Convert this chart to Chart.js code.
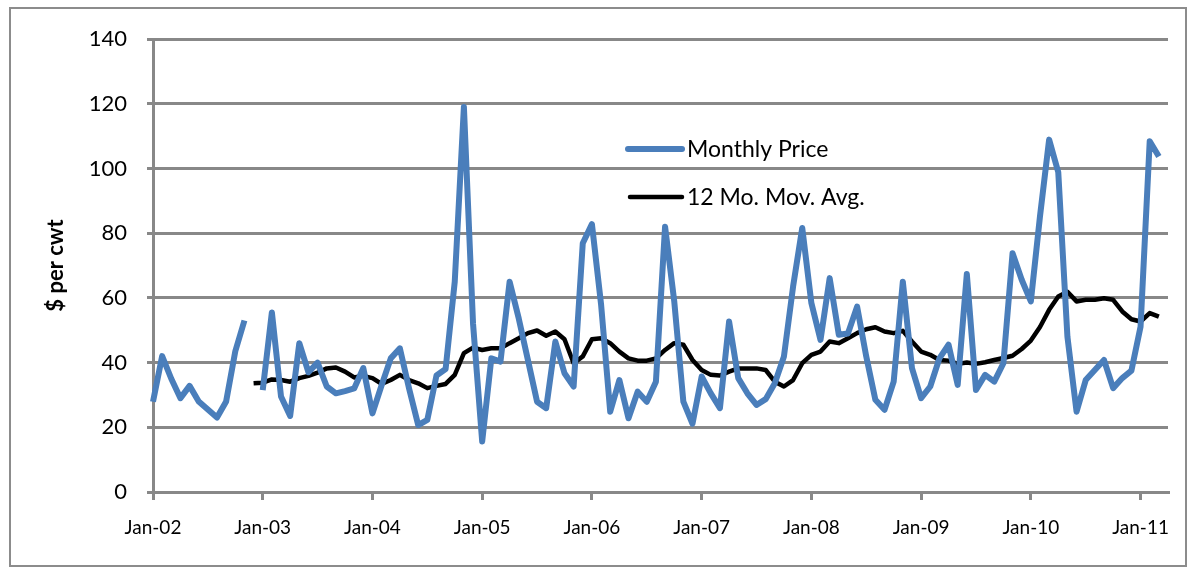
<!DOCTYPE html>
<html>
<head>
<meta charset="utf-8">
<script src="https://cdn.jsdelivr.net/npm/chart.js@4.4.0/dist/chart.umd.min.js"></script>
<style>
  body { margin: 0; background: #fff; }
  #wrap { width: 1193px; height: 571px; }
</style>
</head>
<body>
<div id="wrap"><canvas id="priceChart"></canvas></div>
<script>
const monthNames = ['Jan', 'Feb', 'Mar', 'Apr', 'May', 'Jun', 'Jul', 'Aug', 'Sep', 'Oct', 'Nov', 'Dec'];
const yearCodes = ['02', '03', '04', '05', '06', '07', '08', '09', '10', '11'];

// Jan-02 .. Apr-11 (axis runs one month past the last value)
const months = [];
yearCodes.forEach(y => monthNames.forEach(m => months.push(m + '-' + y)));
months.length = 112;

// $ per cwt, Jan-02 .. Mar-11 (Dec-02 missing)
const monthlyPrice = [
  27.9, 42, 35, 29, 32.8, 28, 25.5, 23, 28, 43.5, 53, null,
  31.5, 55.5, 29.5, 23.5, 46, 37, 40, 32.6, 30.5, 31.2, 32, 38.3,
  24.3, 33, 41.3, 44.4, 32, 20.7, 22.3, 36, 38, 65, 119, 52,
  15.6, 41.3, 40.3, 65, 53.6, 40.8, 27.9, 25.9, 46.5, 36.7, 32.6, 76.9,
  82.8, 58, 24.8, 34.6, 22.8, 31, 27.9, 34.1, 82, 59, 27.9, 21.1,
  35.7, 30.5, 25.9, 52.7, 35.2, 30.5, 26.9, 28.7, 33.6, 41.9, 63.5, 81.6,
  58.4, 47, 66.1, 48.6, 49, 57.3, 41.9, 28.5, 25.4, 34.1, 65, 38.3,
  29, 32.6, 41.3, 45.5, 33.1, 67.4, 31.5, 36.2, 34.1, 39.8, 73.8, 65.6,
  58.9, 85.2, 108.9, 98.8, 48, 24.8, 34.6, 37.7, 40.8, 32.1, 35.2, 37.5,
  51.1, 108.4, 103.7
];

const movingAvg = [
  null, null, null, null, null, null, null, null, null, null, null, 33.6,
  33.8, 34.8, 34.6, 34.1, 35.2, 35.9, 36.9, 38.2, 38.5, 37.2, 35.4, 35.9,
  35.2, 33.4, 34.6, 36.2, 34.6, 33.6, 32.1, 32.8, 33.4, 36.2, 42.9, 44.6,
  43.9, 44.4, 44.4, 46, 47.5, 49.1, 49.9, 48.3, 49.6, 47.2, 39.8, 41.9,
  47.2, 47.5, 46, 43.4, 41.3, 40.6, 40.6, 41.3, 43.9, 46, 45.5, 40.8,
  37.7, 36.2, 36, 37.2, 38.2, 38.2, 38.2, 37.7, 34.1, 32.6, 34.6, 39.8,
  42.4, 43.4, 46.5, 46, 47.5, 49.1, 50.3, 50.9, 49.6, 49.1, 49.8, 46.5,
  43.4, 42.4, 40.8, 40.6, 39.6, 40, 39.6, 40.1, 40.8, 41.4, 42.1, 44.2,
  46.8, 51, 56.3, 60.4, 61.9, 58.9, 59.4, 59.4, 59.9, 59.4, 55.8, 53.4,
  52.7, 55.3, 54.2
];

const seriesNames = ['Monthly Price', '12 Mo. Mov. Avg.'];
const yTicks = [0, 20, 40, 60, 80, 100, 120, 140];

Chart.defaults.font.family = 'Lato';
Chart.defaults.color = '#000';

const gridGray = '#888888';

// white page + frame round the whole chart
const frame = {
  id: 'frame',
  beforeDraw(chart) {
    const c = chart.ctx;
    c.save();
    c.fillStyle = '#fff';
    c.fillRect(0, 0, chart.width, chart.height);
    c.strokeStyle = '#8c8c8c';
    c.lineWidth = 2;
    c.strokeRect(10, 8, 1176, 558);
    c.restore();
  }
};

// legend sits inside the plot like the Excel one
const insideLegend = {
  id: 'insideLegend',
  afterDatasetsDraw(chart) {
    const c = chart.ctx;
    const rows = [{ y: 149, x0: 628 }, { y: 197, x0: 630 }];
    c.save();
    c.font = '23px Lato';
    c.textBaseline = 'middle';
    c.textAlign = 'left';
    chart.data.datasets.forEach((ds, i) => {
      c.strokeStyle = ds.borderColor;
      c.lineWidth = ds.borderWidth;
      c.lineCap = 'round';
      c.beginPath();
      c.moveTo(rows[i].x0, rows[i].y);
      c.lineTo(682, rows[i].y);
      c.stroke();
      c.fillStyle = '#000';
      c.fillText(ds.label, 687, rows[i].y + 1);
    });
    c.restore();
  }
};

const ctx = document.getElementById('priceChart').getContext('2d');

const priceChart = new Chart(ctx, {
  type: 'line',
  data: {
    labels: months,
    datasets: [{
      label: seriesNames[0],
      data: monthlyPrice,
      borderColor: '#4a7ebb',
      borderWidth: 6,
      pointRadius: 0,
      tension: 0,
      spanGaps: false,
      borderJoinStyle: 'round'
    }, {
      label: seriesNames[1],
      data: movingAvg,
      borderColor: '#000000',
      borderWidth: 4.5,
      pointRadius: 0,
      tension: 0,
      borderJoinStyle: 'round'
    }]
  },
  options: {
    responsive: true,
    maintainAspectRatio: false,
    animation: false,
    layout: { padding: { left: 0, right: 25, top: 39, bottom: 0 } },
    plugins: {
      legend: { display: false },
      tooltip: { enabled: false }
    },
    scales: {
      x: {
        offset: false,
        afterFit(scale) { scale.height = 79; },
        border: { color: gridGray, width: 3 },
        grid: {
          drawOnChartArea: false,
          drawTicks: true,
          tickLength: 8,
          color: gridGray,
          lineWidth: 3
        },
        ticks: {
          autoSkip: false,
          maxRotation: 0,
          padding: 16,
          font: { size: 19 },
          callback: function (value, index) {
            return index % 12 === 0 ? this.getLabelForValue(value) : null;
          }
        }
      },
      y: {
        min: 0,
        max: 140,
        afterFit(scale) { scale.width = 153; },
        afterBuildTicks(scale) { scale.ticks = yTicks.map(v => ({ value: v })); },
        border: { color: gridGray, width: 3 },
        grid: { color: gridGray, lineWidth: 3, tickLength: 6 },
        ticks: { padding: 20, font: { size: 22 } },
        title: {
          display: true,
          text: '$ per cwt',
          font: { size: 22, weight: 'bold' },
          padding: { top: 43, bottom: 0 }
        }
      }
    }
  },
  plugins: [frame, insideLegend]
});
</script>
</body>
</html>
